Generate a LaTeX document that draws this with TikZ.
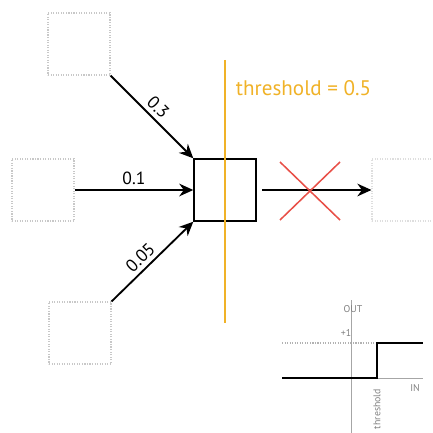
\documentclass[tikz,border=0pt]{standalone}
\usepackage{fontspec}
\setmainfont{PT Sans}
\usepackage{tikz}
\usetikzlibrary{
    arrows.meta,
    positioning,
    calc
}

\definecolor{threshColor}{RGB}{240,178,40}
\definecolor{crossColor}{RGB}{232,80,72}
\definecolor{faintColor}{RGB}{200,200,200}

\tikzset{
    inbox/.style={draw=faintColor, densely dotted, line width=0.8pt, minimum size=1.55cm, inner sep=0pt},
    cellbox/.style={draw=black, line width=1pt, minimum size=1.55cm, inner sep=0pt},
    wire/.style={-{Stealth[length=10pt, width=9pt]}, line width=1.3pt},
    weight/.style={font=\fontsize{12.5}{14}\selectfont, inner sep=1pt},
    tiny/.style={font=\fontsize{7}{8}\selectfont, text=gray}
}

\begin{document}
\begin{tikzpicture}[x=0.025cm, y=-0.025cm]

\useasboundingbox (0,0) rectangle (433,433);

% Inputs and neuron
\node[inbox] (in1) at (79,44) {};
\node[inbox] (in2) at (43,190) {};
\node[inbox] (in3) at (80,333) {};
\node[cellbox] (cell) at (225,190) {};
\node[inbox, draw=faintColor!60] (out) at (403,190) {};

% Weighted connections
\draw[wire] (in1.south east) -- (cell.north west)
    node[weight, pos=0.48, above=2pt, sloped] {0.3};
\draw[wire] (in2.east) -- (cell.west)
    node[weight, pos=0.5, above=2pt] {0.1};
\draw[wire] (in3.north east) -- (cell.south west)
    node[weight, pos=0.45, above=2pt, sloped] {0.05};

% Threshold line
\draw[threshColor, line width=1.4pt] (225,60) -- (225,323);
\node[threshColor, anchor=west, font=\fontsize{15}{18}\selectfont] (thr) at (231,88) {threshold = 0.5};

% Blocked output
\draw[wire, shorten <=4pt] (cell.east) -- (out.west);
\draw[crossColor, line width=1.1pt] (280,162) -- (340,220);
\draw[crossColor, line width=1.1pt] (280,220) -- (340,162);

% Step function
\draw[gray!70, thin] (351,300) -- (351,433);
\draw[gray!70, thin] (282,378) -- (423,378);
\draw[gray!60, densely dotted, thick] (282,343) -- (423,343);
\draw[black, line width=1.6pt] (282,378) -- (377,378) -- (377,343) -- (423,343);
\node[tiny] (outlbl) at (353,309) {OUT};
\node[tiny] (one) at (346,333) {+1};
\node[tiny] (inlbl) at (415,388) {IN};
\node[tiny, rotate=90, anchor=east] (thrlbl) at (377,384) {threshold};

\end{tikzpicture}
\end{document}
